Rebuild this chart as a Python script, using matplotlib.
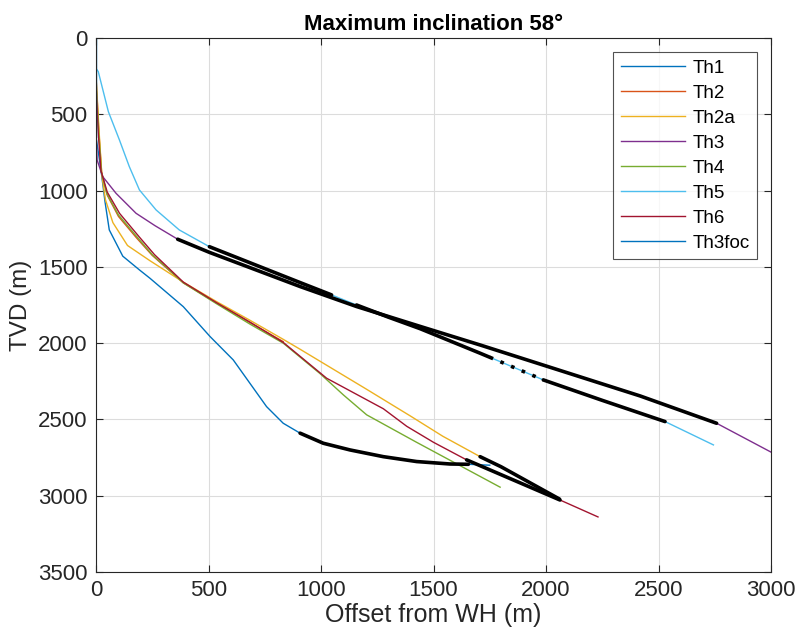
import numpy as np
import matplotlib
matplotlib.use("Agg")
import matplotlib.pyplot as plt

plt.rcParams['font.family'] = ['Liberation Sans', 'DejaVu Sans']

# ---- data (offset m, TVD m) ----
th1_x = [0, 0, 10, 25, 40, 59, 119, 193, 240, 388, 507, 610, 684, 758, 832, 907, 1010, 1129, 1277, 1425, 1573, 1655, 1750]
th1_y = [0, 650, 745, 898, 1073, 1258, 1430, 1520, 1575, 1761, 1957, 2110, 2263, 2416, 2525, 2590, 2656, 2700, 2744, 2776, 2792, 2794, 2800]

th2_x = [0, 0, 12, 25, 50, 100, 180, 250, 388, 536, 684, 832]
th2_y = [0, 250, 600, 880, 1030, 1170, 1310, 1425, 1605, 1737, 1865, 1990]

th2a_x = [0, 0, 14, 26, 42, 75, 140, 240, 388, 536, 684, 832, 907, 1200, 1400, 1541, 1707, 1800, 2060]
th2a_y = [0, 250, 620, 900, 1060, 1210, 1360, 1460, 1600, 1728, 1850, 1975, 2040, 2300, 2480, 2610, 2744, 2810, 3022]

th3_x = [0, 0, 5, 30, 89, 178, 262, 363, 504, 907, 1158, 1440, 1707, 2418, 2758, 3010]
th3_y = [0, 600, 800, 909, 1018, 1149, 1230, 1319, 1405, 1629, 1760, 1890, 2012, 2346, 2525, 2722]

th4_x = [0, 0, 12, 24, 48, 100, 180, 250, 388, 536, 684, 832, 996, 1100, 1203, 1425, 1796]
th4_y = [0, 300, 620, 880, 1020, 1160, 1300, 1420, 1605, 1742, 1875, 2000, 2200, 2340, 2470, 2650, 2944]

th5_x = [0, 0, 10, 55, 104, 148, 193, 267, 370, 504, 907, 1047, 1158, 1300, 1440, 1707, 1796, 1988, 2250, 2529, 2744]
th5_y = [0, 200, 220, 483, 668, 843, 996, 1127, 1258, 1368, 1603, 1684, 1750, 1830, 1905, 2066, 2121, 2241, 2375, 2514, 2667]

th6_x = [0, 0, 10, 22, 50, 105, 190, 260, 388, 536, 684, 832, 1025, 1277, 1381, 1500, 1647, 2062, 2231]
th6_y = [0, 300, 620, 870, 1010, 1150, 1300, 1420, 1600, 1735, 1862, 1995, 2230, 2430, 2545, 2650, 2765, 3028, 3139]

th3foc_x = [0, 0]
th3foc_y = [0, 650]

labels = ['Th1', 'Th2', 'Th2a', 'Th3', 'Th4', 'Th5', 'Th6', 'Th3foc']
colors = ['#0072BD', '#D95319', '#EDB120', '#7E2F8E', '#77AC30', '#4DBEEE', '#A2142F', '#0072BD']

# highlighted (black) sections: (series index, x start, x end, style)
hl_series = [0, 2, 3, 5, 5, 5, 5, 6]
hl_x0 = [907, 1707, 363, 504, 1158, 1750, 1988, 1647]
hl_x1 = [1655, 2060, 2758, 1047, 1750, 1988, 2529, 2062]
hl_style = ['-', '-', '-', '-', '-', ':', '-', '-']

xticks = [0, 500, 1000, 1500, 2000, 2500, 3000]
yticks = [0, 500, 1000, 1500, 2000, 2500, 3000, 3500]

series = [(th1_x, th1_y), (th2_x, th2_y), (th2a_x, th2a_y), (th3_x, th3_y),
          (th4_x, th4_y), (th5_x, th5_y), (th6_x, th6_y), (th3foc_x, th3foc_y)]


def sub(xs, ys, x0, x1):
    xs = np.asarray(xs, float)
    ys = np.asarray(ys, float)
    m = (xs > x0) & (xs < x1)
    keep = xs > 0
    xi, yi = xs[keep], ys[keep]
    y0 = np.interp(x0, xi, yi)
    y1 = np.interp(x1, xi, yi)
    return (np.concatenate([[x0], xs[m], [x1]]),
            np.concatenate([[y0], ys[m], [y1]]))


fig = plt.figure(figsize=(7.98, 6.36), dpi=100)
ax = fig.add_axes([0.1203, 0.1006, 0.8459, 0.8397])

for (xs, ys), lab, c in zip(series, labels, colors):
    ax.plot(xs, ys, color=c, lw=1.0, label=lab)

for si, a, b, st in zip(hl_series, hl_x0, hl_x1, hl_style):
    xs, ys = series[si]
    sx, sy = sub(xs, ys, a, b)
    if st == ':':
        ax.plot(sx, sy, color='black', lw=2.6, linestyle=(0, (1, 2.2)))
    else:
        ax.plot(sx, sy, color='black', lw=2.6, solid_capstyle='round')

ax.set_xlim(0, 3000)
ax.set_ylim(3500, 0)
ax.set_xticks(xticks)
ax.set_yticks(yticks)
ax.grid(True, color='#dcdcdc', lw=0.8)
ax.set_axisbelow(True)
for s in ax.spines.values():
    s.set_color('#262626')
    s.set_linewidth(0.8)
ax.tick_params(direction='in', length=5, width=0.8, colors='#262626',
               labelsize=16, top=True, right=True, pad=6)
ax.set_xlabel('Offset from WH (m)', fontsize=18, color='#262626', labelpad=1)
ax.set_ylabel('TVD (m)', fontsize=17.5, color='#262626', labelpad=4)
ax.set_title('Maximum inclination 58°', fontsize=16, fontweight='bold', pad=6)

leg = ax.legend(loc='upper right', fontsize=13.5, frameon=True, fancybox=False,
                edgecolor='#262626', handlelength=3.4, labelspacing=0.42,
                borderpad=0.4, handletextpad=0.4, borderaxespad=0.75)
leg.get_frame().set_linewidth(0.8)

fig.savefig('out.png', dpi=100)
